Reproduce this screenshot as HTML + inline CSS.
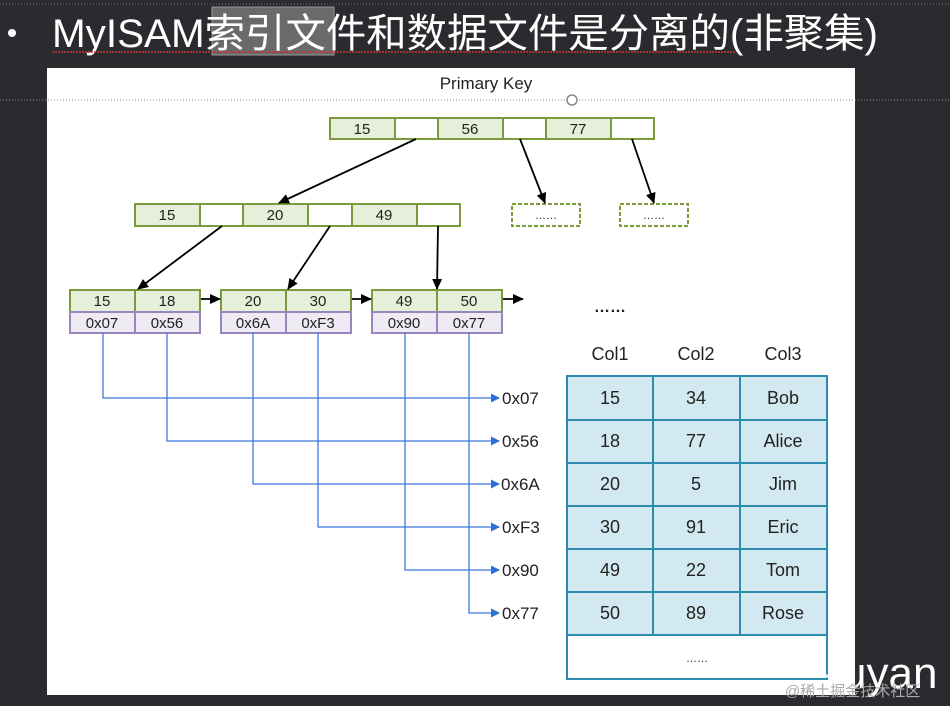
<!DOCTYPE html>
<html><head><meta charset="utf-8"><style>
html,body{margin:0;padding:0;width:950px;height:706px;overflow:hidden;background:#2a2b2f;}
svg{display:block}
</style></head><body>
<svg width="950" height="706" viewBox="0 0 950 706" xmlns="http://www.w3.org/2000/svg" font-family="Liberation Sans, DejaVu Sans, sans-serif">
<defs>
<marker id="ak" markerWidth="11" markerHeight="10" refX="10" refY="5" orient="auto" markerUnits="userSpaceOnUse"><path d="M0,0 L11,5 L0,10 z" fill="#000"/></marker>
<marker id="ab" markerWidth="9" markerHeight="9" refX="8" refY="4.5" orient="auto" markerUnits="userSpaceOnUse"><path d="M0,0 L9,4.5 L0,9 z" fill="#2a6fd6"/></marker>
</defs>
<rect width="950" height="706" fill="#2a2b2f"/>
<line x1="0" y1="4" x2="950" y2="4" stroke="#777" stroke-dasharray="1,2"/>
<rect x="212" y="7" width="122" height="48" fill="#6a6a6a" stroke="#999"/>
<circle cx="12" cy="33" r="4" fill="#fff"/>
<text x="52" y="47" font-size="40" fill="#fff" textLength="826" lengthAdjust="spacingAndGlyphs" font-family="Liberation Sans, Noto Sans CJK SC, sans-serif">MyISAM索引文件和数据文件是分离的(非聚集)</text>
<line x1="52" y1="52" x2="735" y2="52" stroke="#c33" stroke-width="1.5" stroke-dasharray="2,1"/>
<rect x="47" y="68" width="808" height="627" fill="#fff"/>
<line x1="0" y1="100" x2="950" y2="100" stroke="#888" stroke-dasharray="1,2"/>
<circle cx="572" cy="100" r="5" fill="#fff" stroke="#888" stroke-width="1.5"/>
<text x="486" y="89" font-size="17" text-anchor="middle" fill="#222">Primary Key</text>
<g font-size="15" fill="#222" text-anchor="middle" stroke-width="2">
<g stroke="#7a9a3c">
<rect x="330" y="118" width="65" height="21" fill="#e6efd9"/><rect x="395" y="118" width="43" height="21" fill="#fff"/>
<rect x="438" y="118" width="65" height="21" fill="#e6efd9"/><rect x="503" y="118" width="43" height="21" fill="#fff"/>
<rect x="546" y="118" width="65" height="21" fill="#e6efd9"/><rect x="611" y="118" width="43" height="21" fill="#fff"/>
<rect x="135" y="204" width="65" height="22" fill="#e6efd9"/><rect x="200" y="204" width="43" height="22" fill="#fff"/>
<rect x="243" y="204" width="65" height="22" fill="#e6efd9"/><rect x="308" y="204" width="44" height="22" fill="#fff"/>
<rect x="352" y="204" width="65" height="22" fill="#e6efd9"/><rect x="417" y="204" width="43" height="22" fill="#fff"/>
<rect x="512" y="204" width="68" height="22" fill="#fff" stroke-dasharray="4,2"/>
<rect x="620" y="204" width="68" height="22" fill="#fff" stroke-dasharray="4,2"/>
<rect x="70" y="290" width="65" height="22" fill="#e6efd9"/><rect x="135" y="290" width="65" height="22" fill="#e6efd9"/>
<rect x="221" y="290" width="65" height="22" fill="#e6efd9"/><rect x="286" y="290" width="65" height="22" fill="#e6efd9"/>
<rect x="372" y="290" width="65" height="22" fill="#e6efd9"/><rect x="437" y="290" width="65" height="22" fill="#e6efd9"/>
</g>
<g stroke="#9a86be">
<rect x="70" y="312" width="65" height="21" fill="#efebf4"/><rect x="135" y="312" width="65" height="21" fill="#efebf4"/>
<rect x="221" y="312" width="65" height="21" fill="#efebf4"/><rect x="286" y="312" width="65" height="21" fill="#efebf4"/>
<rect x="372" y="312" width="65" height="21" fill="#efebf4"/><rect x="437" y="312" width="65" height="21" fill="#efebf4"/>
</g>
<text x="362" y="134">15</text><text x="470" y="134">56</text><text x="578" y="134">77</text>
<text x="167" y="220">15</text><text x="275" y="220">20</text><text x="384" y="220">49</text>
<text x="546" y="219" font-size="11">……</text><text x="654" y="219" font-size="11">……</text>
<text x="102" y="306">15</text><text x="167" y="306">18</text><text x="253" y="306">20</text><text x="318" y="306">30</text><text x="404" y="306">49</text><text x="469" y="306">50</text>
<text x="102" y="328">0x07</text><text x="167" y="328">0x56</text><text x="253" y="328">0x6A</text><text x="318" y="328">0xF3</text><text x="404" y="328">0x90</text><text x="469" y="328">0x77</text>
</g>
<g stroke="#000" stroke-width="1.8" marker-end="url(#ak)">
<line x1="416" y1="139" x2="279" y2="203"/>
<line x1="520" y1="139" x2="545" y2="203"/>
<line x1="632" y1="139" x2="654" y2="203"/>
<line x1="222" y1="226" x2="138" y2="289"/>
<line x1="330" y1="226" x2="288" y2="289"/>
<line x1="438" y1="226" x2="437" y2="289"/>
<line x1="201" y1="299" x2="220" y2="299"/>
<line x1="352" y1="299" x2="371" y2="299"/>
<line x1="503" y1="299" x2="523" y2="299"/>
</g>
<text x="610" y="312" font-size="16" text-anchor="middle" fill="#222" font-weight="bold">……</text>
<g stroke="#3a7be0" stroke-width="1.3" fill="none">
<path d="M103,333 V398 H499" marker-end="url(#ab)"/>
<path d="M167,333 V441 H499" marker-end="url(#ab)"/>
<path d="M253,333 V484 H499" marker-end="url(#ab)"/>
<path d="M318,333 V527 H499" marker-end="url(#ab)"/>
<path d="M405,333 V570 H499" marker-end="url(#ab)"/>
<path d="M469,333 V613 H499" marker-end="url(#ab)"/>
</g>
<g font-size="17" fill="#222">
<text x="502" y="404">0x07</text><text x="502" y="447">0x56</text><text x="501" y="490">0x6A</text>
<text x="502" y="533">0xF3</text><text x="502" y="576">0x90</text><text x="502" y="619">0x77</text>
</g>
<g font-size="18" fill="#222" text-anchor="middle">
<text x="610" y="360">Col1</text><text x="696" y="360">Col2</text><text x="783" y="360">Col3</text>
</g>
<rect x="567" y="376" width="260" height="259" fill="#d3e9f1" stroke="#2e8bb0" stroke-width="2"/>
<rect x="567" y="635" width="260" height="44" fill="#fff" stroke="#2e8bb0" stroke-width="2"/>
<g stroke="#2e8bb0" stroke-width="2">
<line x1="653" y1="376" x2="653" y2="635"/><line x1="740" y1="376" x2="740" y2="635"/>
<line x1="567" y1="420" x2="827" y2="420"/><line x1="567" y1="463" x2="827" y2="463"/>
<line x1="567" y1="506" x2="827" y2="506"/><line x1="567" y1="549" x2="827" y2="549"/>
<line x1="567" y1="592" x2="827" y2="592"/>
</g>
<g font-size="18" fill="#222" text-anchor="middle">
<text x="610" y="404">15</text><text x="696" y="404">34</text><text x="783" y="404">Bob</text>
<text x="610" y="447">18</text><text x="696" y="447">77</text><text x="783" y="447">Alice</text>
<text x="610" y="490">20</text><text x="696" y="490">5</text><text x="783" y="490">Jim</text>
<text x="610" y="533">30</text><text x="696" y="533">91</text><text x="783" y="533">Eric</text>
<text x="610" y="576">49</text><text x="696" y="576">22</text><text x="783" y="576">Tom</text>
<text x="610" y="619">50</text><text x="696" y="619">89</text><text x="783" y="619">Rose</text>
<text x="697" y="662" font-size="11">……</text>
</g>
<g stroke="#fff" stroke-width="3" opacity="0.9">
<line x1="600" y1="676" x2="830" y2="676" stroke-dasharray="14,8"/>
</g>
<text x="842" y="688" font-size="44" fill="#fff">uyan</text>
<text x="785" y="696" font-size="15" fill="#aaa" font-family="Liberation Sans, Noto Sans CJK SC, sans-serif">@稀土掘金技术社区</text>
</svg>
</body></html>
